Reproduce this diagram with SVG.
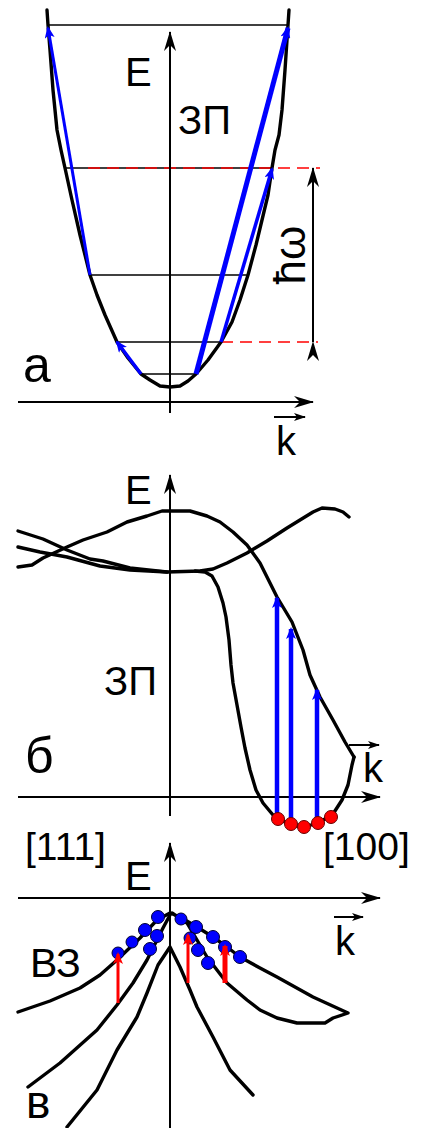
<svg xmlns="http://www.w3.org/2000/svg" width="430" height="1128" viewBox="0 0 430 1128">
<style>
.t{font-family:"Liberation Sans",Arial,sans-serif;fill:#000}
.c{fill:none;stroke:#000;stroke-width:3.4;stroke-linejoin:round;stroke-linecap:round}
.ax{fill:none;stroke:#000;stroke-width:2}
.lv{fill:none;stroke:#000;stroke-width:1.5}
.rd{fill:none;stroke:#f00;stroke-width:1.5;stroke-dasharray:12 7}
.bl{fill:none;stroke:#00f;stroke-linecap:butt}
.rr{fill:none;stroke:#f00}
.dotb{fill:#00f;stroke:#003;stroke-width:1}
.dotr{fill:#f00;stroke:#600;stroke-width:1}
</style>
<defs>
<marker id="ax" viewBox="0 0 20 12" refX="19" refY="6" markerWidth="20" markerHeight="12" markerUnits="userSpaceOnUse" orient="auto"><path d="M0,0 L20,6 L0,12 L6,6 z" fill="#000"/></marker>
<marker id="kv" viewBox="0 0 12 8" refX="11" refY="4" markerWidth="12" markerHeight="8" markerUnits="userSpaceOnUse" orient="auto"><path d="M0,0 L12,4 L0,8 L3,4 z" fill="#000"/></marker>
<marker id="bh" viewBox="0 0 12 10" refX="10" refY="5" markerWidth="12" markerHeight="10" markerUnits="userSpaceOnUse" orient="auto"><path d="M0,0 L12,5 L0,10 L3,5 z" fill="#00f"/></marker>
<marker id="rh" viewBox="0 0 12 10" refX="10" refY="5" markerWidth="12" markerHeight="10" markerUnits="userSpaceOnUse" orient="auto"><path d="M0,0 L12,5 L0,10 L3,5 z" fill="#f00"/></marker>
</defs>

<g id="panel-a">
<path class="lv" d="M48,25 H288"/>
<path class="lv" d="M65,168 H272"/>
<path class="rd" d="M88,168 H320"/>
<path class="lv" d="M90,275 H248"/>
<path class="lv" d="M117,342 H221"/>
<path class="rd" d="M221,342 H318"/>
<path class="lv" d="M141,374 H196"/>
<path class="ax" d="M18,402 H313" marker-end="url(#ax)"/>
<path class="ax" d="M170,413 V32" marker-end="url(#ax)"/>
<path class="c" d="M47,10 L48,25 L50,50 L53,90 L57,130 L61,150 L65,168 L72,200 L80,235 L90,275 L97,295 L105,315 L117,342 L128,358 L141,374 L150,380 L160,386 L170,387 L180,386 L188,381 L196,374 L208,360 L221,342 L232,322 L240,300 L248,275 L256,245 L262,220 L268,195 L272,168 L275,150 L279,135 L282,110 L285,70 L288,25 L289,10"/>
<path class="bl" stroke-width="3" d="M90,275 L48,28" marker-end="url(#bh)"/>
<path class="bl" stroke-width="3.5" d="M141,374 L117,342" marker-end="url(#bh)"/>
<path class="bl" stroke-width="5" d="M196,374 L288,28" marker-end="url(#bh)"/>
<path class="bl" stroke-width="3.5" d="M221,342 L272,169" marker-end="url(#bh)"/>
<path class="ax" d="M313,342 V168" marker-start="url(#ax)" marker-end="url(#ax)"/>
<text class="t" font-size="44" transform="translate(305,255) rotate(-90)" text-anchor="middle">ħω</text>
<text class="t" font-size="40" x="125" y="86">E</text>
<text class="t" font-size="40" x="178" y="134">ЗП</text>
<text class="t" font-size="50" x="23" y="382">а</text>
<path class="ax" d="M274,417 H305" marker-end="url(#kv)"/>
<text class="t" font-size="40" x="276" y="455">k</text>
</g>

<g id="panel-b">
<path class="ax" d="M18,797 H380" marker-end="url(#ax)"/>
<path class="ax" d="M170,816 V475" marker-end="url(#ax)"/>
<path class="c" d="M18,531 L43,539 L67,550 L90,559 L103,561 L130,568 L167,572"/>
<path class="c" d="M18,547 L40,552 L67,557 L100,566 L130,570 L167,572 L200,571 L213,569 L227,563 L247,553 L267,541 L287,528 L313,512 L322,508 L335,509 L343,512 L349,517"/>
<path class="c" d="M195,571 L205,572 L212,576 L218,587 L223,603 L226,617 L229,640 L231,665 L233,683 L237,705 L241,727 L245,748 L250,770 L256,790 L263,803 L273,815 L290,825 L305,827 L320,822 L333,814 L342,800 L348,785 L352,765 L354,757"/>
<path class="c" d="M18,567 L32,565 L43,558 L67,547 L83,540 L107,532 L127,522 L147,516 L162,511 L190,511 L207,516 L220,522 L233,532 L247,545 L260,563 L277,597 L292,622 L303,650 L310,675 L320,697 L333,720 L345,742 L354,757"/>
<path class="bl" stroke-width="4.5" d="M277,815 V598" marker-end="url(#bh)"/>
<path class="bl" stroke-width="4.5" d="M291,823 V629" marker-end="url(#bh)"/>
<path class="bl" stroke-width="4.5" d="M317,820 V690" marker-end="url(#bh)"/>
<circle class="dotr" cx="278" cy="819" r="6.5"/>
<circle class="dotr" cx="291" cy="824" r="6.5"/>
<circle class="dotr" cx="304" cy="827" r="6.5"/>
<circle class="dotr" cx="318" cy="823" r="6.5"/>
<circle class="dotr" cx="331" cy="817" r="6.5"/>
<text class="t" font-size="40" x="125" y="504">E</text>
<text class="t" font-size="40" x="104" y="695">ЗП</text>
<text class="t" font-size="50" x="25" y="773">б</text>
<path class="ax" d="M349,745 H379" marker-end="url(#kv)"/>
<text class="t" font-size="40" x="363" y="782">k</text>
<text class="t" font-size="39" x="25" y="860">[111]</text>
<text class="t" font-size="39" x="323" y="860">[100]</text>
</g>

<g id="panel-c">
<path class="ax" d="M18,898 H380" marker-end="url(#ax)"/>
<path class="ax" d="M170,1128 V843" marker-end="url(#ax)"/>
<path class="c" d="M18,1012 L50,1001 L80,988 L100,975 L117,960 L140,938 L157,920 L170,913 L180,917 L197,927 L213,937 L227,947 L240,957 L260,968 L277,977 L313,997 L348,1013 L333,1018 L325,1023 L297,1023 L277,1018 L260,1010 L247,1000 L227,983 L217,970 L207,957 L197,940 L187,923 L172,913"/>
<path class="c" d="M28,1087 L60,1063 L97,1030 L117,1005 L133,983 L147,960 L155,944 L163,928 L170,915"/>
<path class="c" d="M67,1127 L97,1090 L117,1050 L137,1017 L147,993 L158,965 L170,947 L180,967 L190,990 L197,1007 L213,1037 L230,1070 L253,1095"/>
<circle class="dotb" cx="158" cy="917" r="6.5"/>
<circle class="dotb" cx="145" cy="930" r="6.5"/>
<circle class="dotb" cx="157" cy="936" r="6.5"/>
<circle class="dotb" cx="132" cy="942" r="6"/>
<circle class="dotb" cx="150" cy="949" r="6.5"/>
<circle class="dotb" cx="118" cy="953" r="6"/>
<circle class="dotb" cx="181" cy="919" r="6"/>
<circle class="dotb" cx="196" cy="927" r="6.5"/>
<circle class="dotb" cx="190" cy="938" r="6"/>
<circle class="dotb" cx="198" cy="950" r="6.5"/>
<circle class="dotb" cx="213" cy="937" r="6.5"/>
<circle class="dotb" cx="208" cy="963" r="6.5"/>
<circle class="dotb" cx="225" cy="947" r="6.5"/>
<circle class="dotb" cx="240" cy="957" r="6.5"/>
<path class="rr" stroke-width="3" d="M118,1003 V954" marker-end="url(#rh)"/>
<path class="rr" stroke-width="3" d="M188,983 V935" marker-end="url(#rh)"/>
<path class="rr" stroke-width="5" d="M225,983 V946" marker-end="url(#rh)"/>
<text class="t" font-size="40" x="125" y="890">E</text>
<path class="ax" d="M334,917 H363" marker-end="url(#kv)"/>
<text class="t" font-size="40" x="335" y="955">k</text>
<text class="t" font-size="41" x="30" y="977">ВЗ</text>
<text class="t" font-size="46" x="26" y="1118">в</text>
</g>
</svg>
